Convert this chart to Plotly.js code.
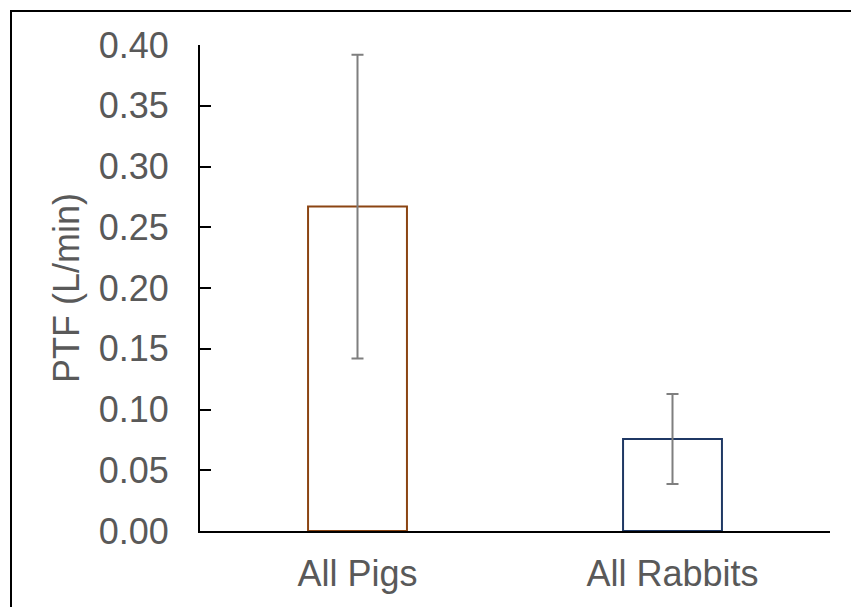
<!DOCTYPE html>
<html>
<head>
<meta charset="utf-8">
<script src="https://cdn.plot.ly/plotly-3.0.1.min.js"></script>
<style>
  html, body { margin: 0; padding: 0; background: #fff; overflow: hidden; }
  #frame { position: absolute; left: 10px; top: 10px; width: 900px; height: 700px; border: 2px solid #000; box-sizing: border-box; }
  #chart { position: absolute; left: 0; top: 0; width: 851px; height: 607px; }
</style>
</head>
<body>
<div id="frame"></div>
<div id="chart"></div>
<script>
const categories = ["All Pigs", "All Rabbits"];
const means = [0.267, 0.0757];
const errors = [0.125, 0.037];
const outlineColors = ["#8B4513", "#1F3864"];
const yTickVals = [0, 0.05, 0.10, 0.15, 0.20, 0.25, 0.30, 0.35, 0.40];
const yTickText = ["0.00", "0.05", "0.10", "0.15", "0.20", "0.25", "0.30", "0.35", "0.40"];

const trace = {
  type: "bar",
  x: categories,
  y: means,
  width: 0.314,
  marker: { color: "rgba(255,255,255,0)", line: { color: outlineColors, width: 2 } },
  error_y: { type: "data", array: errors, visible: true, color: "#7f7f7f", thickness: 2, width: 6 },
  hoverinfo: "none"
};

const layout = {
  width: 851, height: 607,
  margin: { l: 200, r: 21, t: 45, b: 76, pad: 0 },
  paper_bgcolor: "rgba(0,0,0,0)",
  plot_bgcolor: "rgba(0,0,0,0)",
  font: { family: "Liberation Sans, Arial, sans-serif", color: "#595959", size: 36 },
  showlegend: false,
  xaxis: {
    type: "category",
    range: [-0.5, 1.5],
    showline: true, linecolor: "#000", linewidth: 2,
    ticks: "", showgrid: false, zeroline: false,
    tickfont: { size: 36, color: "#595959" },
    ticklabelstandoff: 10
  },
  yaxis: {
    range: [0, 0.4],
    tickvals: yTickVals, ticktext: yTickText,
    showline: true, linecolor: "#000", linewidth: 2,
    ticks: "inside", ticklen: 11, tickwidth: 2, tickcolor: "#000",
    showgrid: false, zeroline: false,
    tickfont: { size: 36, color: "#595959" },
    ticklabelstandoff: 22,
    title: { text: "PTF (L/min)", font: { size: 36, color: "#595959" }, standoff: 8 }
  }
};

Plotly.newPlot("chart", [trace], layout, { displayModeBar: false, staticPlot: true });
</script>
</body>
</html>
